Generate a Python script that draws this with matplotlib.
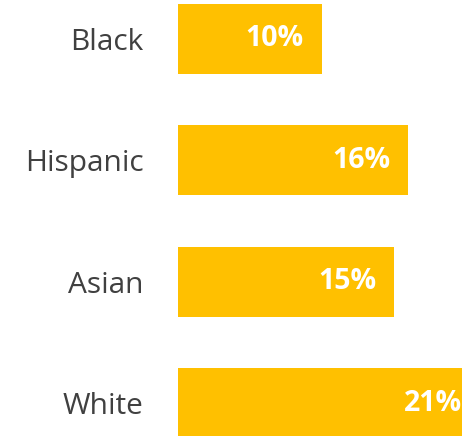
import matplotlib.pyplot as plt

# data
groups = ["Black", "Hispanic", "Asian", "White"]
shares = [10, 16, 15, 21]
labels = ["10%", "16%", "15%", "21%"]

plt.rcParams['font.family'] = ['Open Sans', 'DejaVu Sans']

fig = plt.figure(figsize=(4.62, 4.36), dpi=100)
ax = fig.add_axes([178 / 462, 0, 1 - 178 / 462, 1])

pos = range(len(groups))
ax.barh(pos, shares, height=0.577, color="#FFC000")

for y, v, lab in zip(pos, shares, labels):
    ax.annotate(lab, xy=(v, y), xytext=(-13, 0), textcoords="offset points",
                ha="right", va="center", color="white", fontsize=20.5,
                fontweight="bold", annotation_clip=False)

ax.set_xlim(0, 19.72)
ax.set_ylim(3.27, -0.32)
ax.set_yticks(list(pos))
ax.set_yticklabels(groups, fontsize=21.5, color="#404040")
ax.tick_params(axis="y", length=0, pad=25)
ax.set_xticks([])
for s in ax.spines.values():
    s.set_visible(False)

fig.savefig("out.png", dpi=100)
